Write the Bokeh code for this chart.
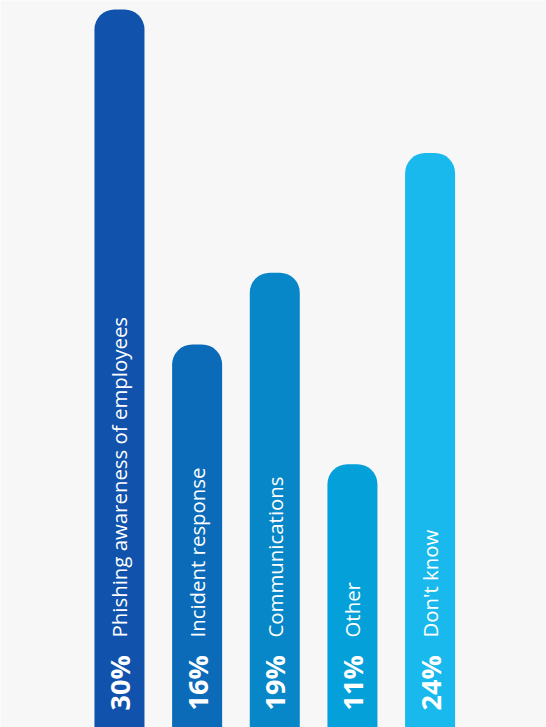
import math
from bokeh.plotting import figure
from bokeh.models import ColumnDataSource, Range1d
from bokeh.core.properties import value
from bokeh.embed import file_html
from bokeh.resources import INLINE

categories = ["Phishing awareness of employees", "Incident response",
              "Communications", "Other", "Don't know"]
values = [30, 16, 19, 11, 24]
pct_labels = ["30%", "16%", "19%", "11%", "24%"]
colors = ["#1052ac", "#0b6bb9", "#0786c8", "#04a0d9", "#1ab9ed"]

W, H = 546, 727
Y_END = 30 * H / 718.0
BG = "#f7f7f7"

def px_to_y(px):
    return px * Y_END / H

xs = list(range(len(categories)))
src = ColumnDataSource(dict(x=xs, top=values, color=colors, cat=categories, pct=pct_labels,
                            ypct=[px_to_y(17)] * len(xs), ylab=[px_to_y(90)] * len(xs)))

p = figure(width=W, height=H, output_backend="svg", toolbar_location=None,
           x_range=Range1d(-1.532, 5.499), y_range=Range1d(0, Y_END),
           min_border=0, background_fill_color=BG, border_fill_color=BG)
p.axis.visible = False
p.grid.visible = False
p.outline_line_color = None

p.vbar(x="x", top="top", bottom=-1, width=0.644, fill_color="color", line_color=None,
       border_radius=(20, 20, 0, 0), source=src)

p.text(x="x", y="ypct", text="pct", angle=math.pi / 2, text_color="white",
       text_font=value("Open Sans"), text_font_size="27px", text_font_style="bold",
       text_align="left", text_baseline="middle", source=src)
p.text(x="x", y="ylab", text="cat", angle=math.pi / 2, text_color="white",
       text_font=value("Open Sans"), text_font_size="20.4px",
       text_align="left", text_baseline="middle", source=src)

open("out.html", "w").write(file_html(p, INLINE))
